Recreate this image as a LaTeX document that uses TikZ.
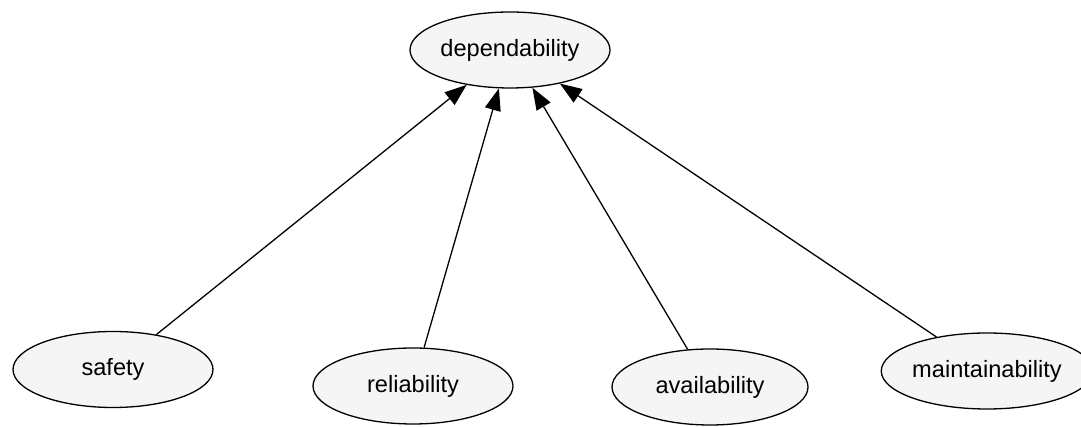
\documentclass[tikz,border=0pt]{standalone}
\usepackage{fontspec}
\setmainfont{Liberation Sans}
\usetikzlibrary{shapes.geometric,arrows.meta}
\definecolor{nodefill}{HTML}{F5F5F5}
\tikzset{
  ov/.style={ellipse, draw=black, line width=1.3pt, fill=nodefill, minimum width=200pt, minimum height=76pt, inner sep=0pt, font=\fontsize{23.6}{28}\selectfont},
  edge/.style={line width=1.3pt, -{Triangle[length=22pt,width=16pt]}}
}
\begin{document}
\begin{tikzpicture}[x=1pt,y=1pt]
\useasboundingbox (0,0) rectangle (1081,427);
\node[ov] (dep) at (510,377) {dependability};
\node[ov] (saf) at (113,57.5) {safety};
\node[ov] (rel) at (413,41) {reliability};
\node[ov, minimum width=196pt] (ava) at (710,40) {availability};
\node[ov, minimum width=190pt] (mai) at (987,56) {maintainability};
\draw[edge] (saf) -- (dep);
\draw[edge] (rel) -- (dep);
\draw[edge] (ava) -- (dep);
\draw[edge] (mai) -- (dep);
\end{tikzpicture}
\end{document}
